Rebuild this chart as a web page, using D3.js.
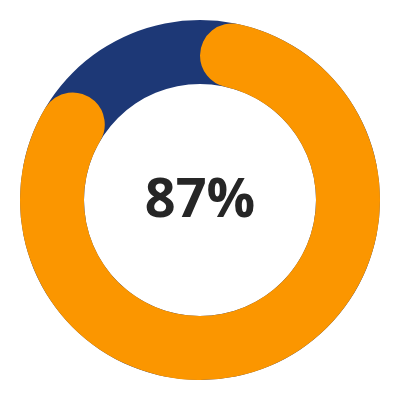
<!DOCTYPE html>
<html>
<head>
<meta charset="utf-8">
<script src="https://cdn.jsdelivr.net/npm/d3@7.9.0/dist/d3.min.js"></script>
<style>
  html, body { margin: 0; padding: 0; background: #fff; }
</style>
</head>
<body>
<div id="chart"></div>
<script>
// share of the ring filled, and the label shown in the middle
const value = [0.87];
const label = ['87%'];

const width = 400;
const height = 400;
const outer = 180;
const inner = 116;

const svg = d3.select('#chart')
  .append('svg')
  .attr('width', width)
  .attr('height', height);

const g = svg.append('g')
  .attr('transform', `translate(${width / 2},${height / 2})`);

const angle = d3.scaleLinear().domain([0, 1]).range([0, 2 * Math.PI]);

// full background ring
g.append('path')
  .attr('d', d3.arc()({ innerRadius: inner, outerRadius: outer, startAngle: 0, endAngle: 2 * Math.PI }))
  .attr('fill', '#1d3876');

// value arc with round ends
const valueArc = d3.arc()
  .innerRadius(inner)
  .outerRadius(outer)
  .cornerRadius((outer - inner) / 2);

g.selectAll('path.value')
  .data(value)
  .join('path')
  .attr('class', 'value')
  .attr('d', (d) => valueArc({ startAngle: 0, endAngle: angle(d) }))
  .attr('fill', '#fb9600');

g.append('text')
  .text(label[0])
  .attr('text-anchor', 'middle')
  .attr('dy', '0.35em')
  .attr('y', -2)
  .attr('font-family', 'Open Sans, sans-serif')
  .attr('font-weight', 700)
  .attr('font-size', 54)
  .attr('fill', '#262626');
</script>
</body>
</html>
